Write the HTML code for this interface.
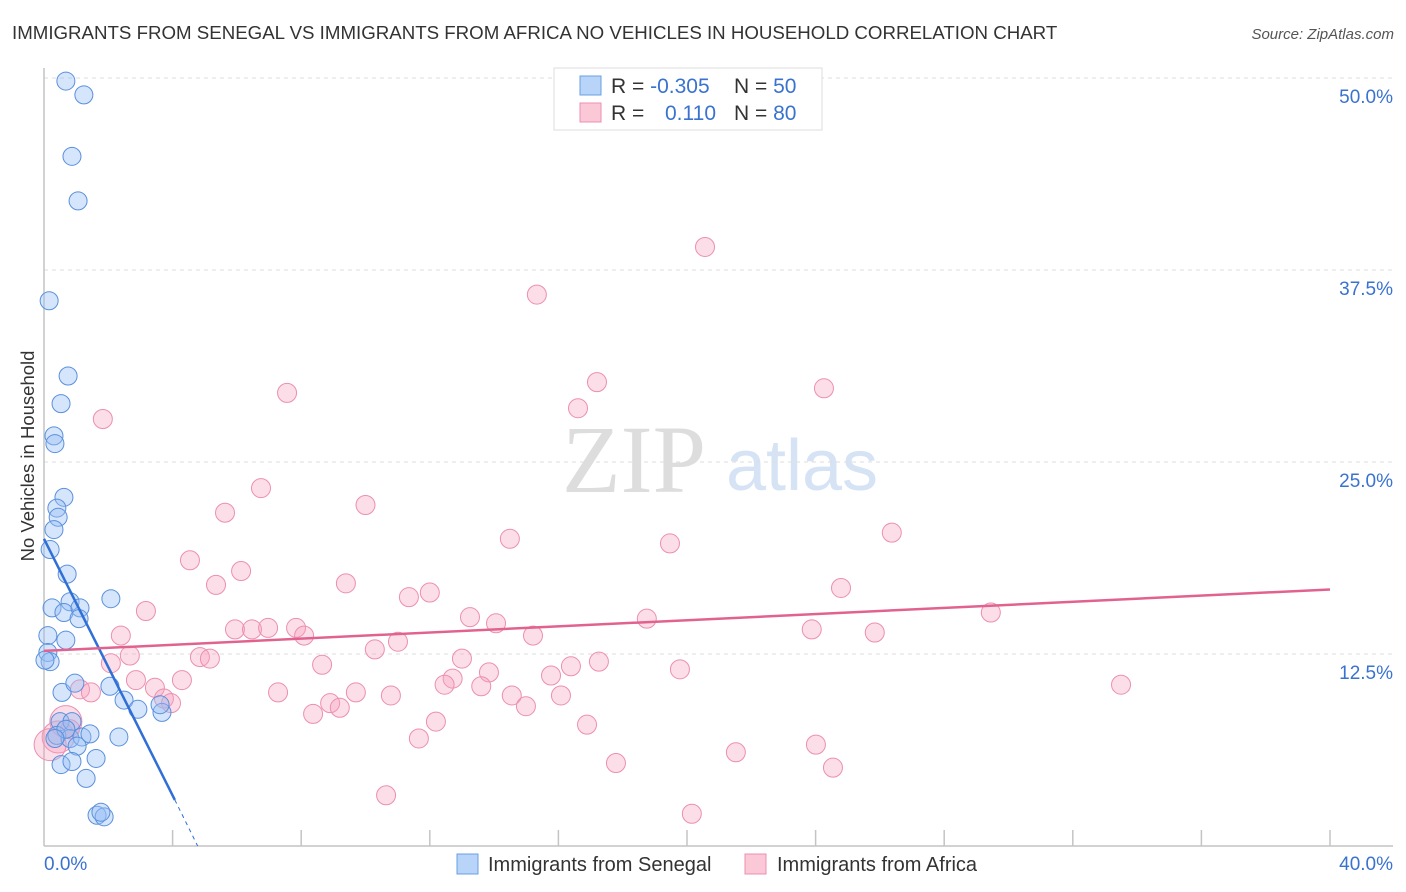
<!DOCTYPE html>
<html><head><meta charset="utf-8">
<style>
body{margin:0;background:#fff;font-family:"Liberation Sans",sans-serif;}
#wrap{position:relative;width:1406px;height:892px;overflow:hidden;}
</style></head>
<body>
<div id="wrap">
<svg id="svg" width="1406" height="892" xmlns="http://www.w3.org/2000/svg">
<text x="12" y="39" font-size="18.7" fill="#333">IMMIGRANTS FROM SENEGAL VS IMMIGRANTS FROM AFRICA NO VEHICLES IN HOUSEHOLD CORRELATION CHART</text>
<text x="1394" y="39" font-size="15" fill="#555" font-style="italic" text-anchor="end">Source: ZipAtlas.com</text>
<text x="634" y="492" font-size="96" fill="#ddd" font-family="Liberation Serif,serif" text-anchor="middle">ZIP</text>
<text x="802" y="490" font-size="72" fill="#d6e3f5" text-anchor="middle">atlas</text>
<g id="grid"></g>
<g id="pts"></g>
<g id="lines"></g>
<text transform="translate(34,456) rotate(-90)" font-size="18.5" fill="#333" text-anchor="middle">No Vehicles in Household</text>
<rect x="554" y="68" width="268" height="62" fill="#fff" stroke="#ddd"/>
<rect x="580" y="76" width="21" height="19" fill="#b8d4f8" stroke="#6a9fe0"/>
<rect x="580" y="103" width="21" height="19" fill="#fbc8d8" stroke="#ec8fb0"/>
<text x="611" y="93" font-size="21" fill="#333">R = <tspan fill="#3a72d0">-0.305</tspan></text>
<text x="734" y="93" font-size="21" fill="#333">N = <tspan fill="#3a72d0">50</tspan></text>
<text x="611" y="120" font-size="21" fill="#333">R = <tspan x="665" fill="#3a72d0">0.110</tspan></text>
<text x="734" y="120" font-size="21" fill="#333">N = <tspan fill="#3a72d0">80</tspan></text>
<rect x="457" y="854" width="21" height="20" fill="#b8d4f8" stroke="#6a9fe0"/>
<text x="488" y="871" font-size="20" fill="#333">Immigrants from Senegal</text>
<rect x="745" y="854" width="21" height="20" fill="#fbc8d8" stroke="#ec8fb0"/>
<text x="777" y="871" font-size="20" fill="#333">Immigrants from Africa</text>
<text x="44" y="870" font-size="19" fill="#3a72d0">0.0%</text>
<text x="1393" y="870" font-size="19" fill="#3a72d0" text-anchor="end">40.0%</text>
</svg>
</div>
<script>
const yTicks=[50,37.5,25,12.5];
const yTickLabels=["50.0%","37.5%","25.0%","12.5%"];
const senX=[0.68,1.24,0.87,1.06,0.16,0.75,0.53,0.31,0.34,0.62,0.40,0.44,0.31,0.19,0.72,2.08,0.25,0.81,0.62,1.12,1.09,0.12,0.68,0.12,0.19,2.05,0.56,0.96,2.49,2.92,3.67,3.61,0.50,0.87,0.40,0.81,1.18,1.03,2.33,0.53,0.87,1.62,1.31,1.65,1.87,1.77,0.68,1.43,0.34,0.03];
const senY=[49.8,48.9,44.9,42.0,35.5,30.6,28.8,26.7,26.2,22.7,22.0,21.4,20.6,19.3,17.7,16.1,15.5,15.9,15.2,15.5,14.8,13.7,13.4,12.6,12.0,10.4,10.0,10.6,9.5,8.9,8.7,9.2,8.1,8.1,7.2,7.0,7.1,6.5,7.1,5.3,5.5,5.7,4.4,2.0,1.9,2.2,7.6,7.3,7.0,12.1];
const afrX=[20.56,15.33,17.2,24.26,7.56,16.61,1.83,6.75,10.0,5.63,14.49,26.37,19.47,4.54,6.13,9.39,5.35,24.79,12.0,11.35,3.17,13.25,18.75,29.45,14.06,5.94,6.47,6.97,7.84,8.09,23.88,25.84,2.39,15.21,11.01,10.29,2.67,4.85,5.16,13.0,17.26,16.39,2.08,8.65,19.78,13.84,15.77,2.86,4.29,12.71,12.46,33.5,13.6,3.45,1.12,1.46,7.28,9.70,10.79,14.55,16.08,3.73,3.95,8.9,9.2,14.99,8.37,12.19,16.89,11.66,21.52,24.01,17.79,24.54,10.64,20.15,0.68,0.44,0.19,0.81];
const afrY=[39.0,35.9,30.2,29.8,29.5,28.5,27.8,23.3,22.2,21.7,20.0,20.4,19.7,18.6,17.9,17.1,17.0,16.8,16.5,16.2,15.3,14.9,14.8,15.2,14.5,14.1,14.1,14.2,14.2,13.7,14.1,13.9,13.7,13.7,13.3,12.8,12.4,12.3,12.2,12.2,12.0,11.7,11.9,11.8,11.5,11.3,11.1,10.8,10.8,10.9,10.5,10.5,10.4,10.3,10.2,10.0,10.0,10.0,9.8,9.8,9.8,9.6,9.3,9.3,9.0,9.1,8.6,8.1,7.9,7.0,6.1,6.6,5.4,5.1,3.3,2.1,8.1,7.1,6.6,7.6];
const afrBig=[76,77,78];
const senTrend=[[0,20.0],[4.07,3.0],[4.78,0]];
const afrTrend=[[0,12.7],[40,16.7]];
const NS="http://www.w3.org/2000/svg";
const X=v=>44+v/40*1286, Y=v=>846-v/50*768;
function mk(t,a,p){const e=document.createElementNS(NS,t);for(const k in a)e.setAttribute(k,a[k]);document.getElementById(p).appendChild(e);return e;}
yTicks.forEach((t,i)=>{
 const l=mk('line',{x1:44,x2:1393,y1:Y(t),y2:Y(t),stroke:'#ddd','stroke-dasharray':'4,4'},'grid');
 
 
 const tx=mk('text',{x:1393,y:Y(t)+25,'font-size':19,fill:'#3a72d0','text-anchor':'end'},'grid');
 tx.textContent=yTickLabels[i];
 
 
});
let ax=mk('line',{x1:44,x2:44,y1:68,y2:846,stroke:'#c4c4c4','stroke-width':1.5},'grid');


ax=mk('line',{x1:44,x2:1393,y1:846,y2:846,stroke:'#c4c4c4','stroke-width':1.5},'grid');


for(let i=1;i<=10;i++){const t=mk('line',{x1:X(i*4),x2:X(i*4),y1:846,y2:830,stroke:'#c4c4c4','stroke-width':1.5},'grid');
 
 }
afrX.forEach((v,i)=>{const big=afrBig.includes(i);const c=mk('circle',{cx:X(v),cy:Y(afrY[i]),r:big?16:9.5,fill:'rgba(246,160,188,0.35)',stroke:'#ec8fb0','stroke-width':1},'pts');
 
 });
senX.forEach((v,i)=>{const c=mk('circle',{cx:X(v),cy:Y(senY[i]),r:9,fill:'rgba(150,190,245,0.4)',stroke:'#5a90dc','stroke-width':1},'pts');
 
 });
let tl=mk('line',{x1:X(senTrend[0][0]),y1:Y(senTrend[0][1]),x2:X(senTrend[1][0]),y2:Y(senTrend[1][1]),stroke:'#2f6fd6','stroke-width':2.5},'lines');


tl=mk('line',{x1:X(senTrend[1][0]),y1:Y(senTrend[1][1]),x2:X(senTrend[2][0]),y2:Y(senTrend[2][1]),stroke:'#2f6fd6','stroke-width':1,'stroke-dasharray':'4,4'},'lines');


tl=mk('line',{x1:X(afrTrend[0][0]),y1:Y(afrTrend[0][1]),x2:X(afrTrend[1][0]),y2:Y(afrTrend[1][1]),stroke:'#e2628f','stroke-width':2.5},'lines');


</script>
</body></html>
